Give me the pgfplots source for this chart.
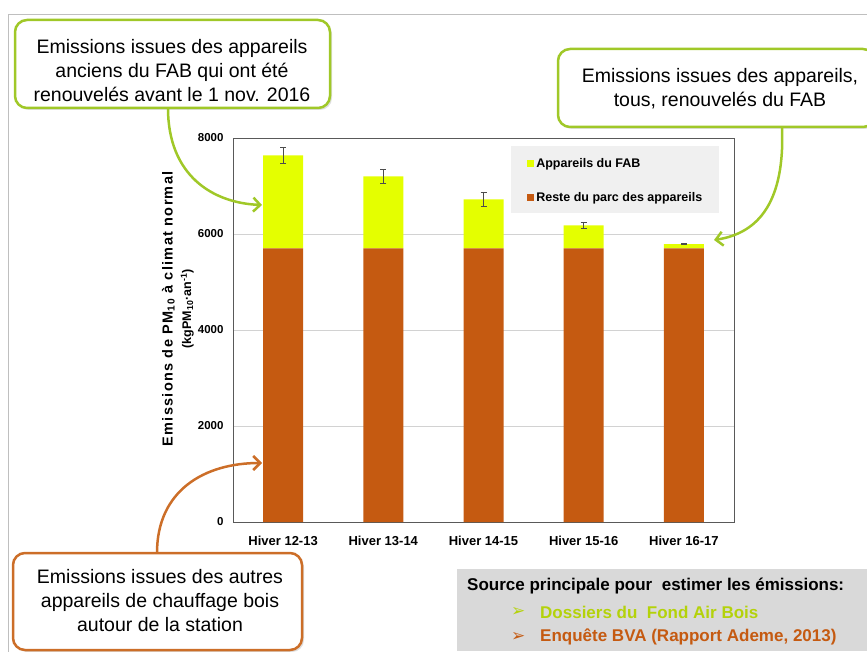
\documentclass[border=0pt]{standalone}
\usepackage{fontspec}
\setmainfont{Liberation Sans}
\newfontfamily\dejavu{DejaVu Sans}
\newfontfamily\spaced[LetterSpace=9]{Liberation Sans}
\usepackage{pgfplots}
\pgfplotsset{compat=1.18}
\usetikzlibrary{arrows.meta,shadows}

\definecolor{fabyellow}{RGB}{228,255,0}
\definecolor{barorange}{RGB}{197,90,17}
\definecolor{calgreen}{RGB}{160,200,40}
\definecolor{calorange}{RGB}{204,110,40}
\definecolor{srcgreen}{RGB}{180,210,10}
\definecolor{legbg}{RGB}{240,240,240}
\definecolor{srcbg}{RGB}{217,217,217}

\begin{document}
\begin{tikzpicture}
\useasboundingbox (0pt,0pt) rectangle (867pt,-652pt);

\begin{scope}[x=1pt,y=-1pt]
% slide frame
\draw[gray!50, line width=1pt] (8,652) -- (8,15) -- (867,15);
% legend background
\fill[legbg] (511,146) rectangle (719,213);
\end{scope}

\pgfplotsset{chartgeom/.style={
	at={(233pt,-522pt)}, anchor=south west,
	width=501pt, height=384pt, scale only axis,
	xmin=-0.5, xmax=4.5, ymin=0, ymax=8000}}

\begin{axis}[
	chartgeom,
	ybar stacked,
	bar width=40pt,
	xtick={0,1,2,3,4},
	xticklabels={Hiver 12-13,Hiver 13-14,Hiver 14-15,Hiver 15-16,Hiver 16-17},
	ytick={0,2000,4000,6000,8000},
	ymajorgrids=true,
	grid style={gray!35, line width=0.8pt},
	axis line style={black!65, line width=1pt},
	major tick length=0pt,
	/pgf/number format/1000 sep={},
	/pgf/number format/assume math mode=true,
	yticklabel style={font=\bfseries\fontsize{11.5}{13}\selectfont, xshift=-6pt},
	xticklabel style={font=\bfseries\fontsize{13}{15}\selectfont, yshift=-11pt},
	ylabel={{\spaced\fontsize{14.5}{17}\selectfont Emissions de PM\textsubscript{10} à climat normal}\\[5pt]{\fontsize{12.5}{15}\selectfont (kgPM\textsubscript{10}·an\textsuperscript{-1})}},
	ylabel style={font=\bfseries, align=center, at={(axis description cs:-0.11,0.555)}, anchor=center},
	reverse legend,
	legend cell align=left,
	legend style={at={(0.587,0.889)}, anchor=west, fill=none, draw=none,
		inner sep=0pt, row sep=19pt,
		font=\bfseries\fontsize{12.5}{15}\selectfont},
	legend image code/.code={\fill[#1, draw=none] (0pt,-3.5pt) rectangle (7pt,3.5pt);},
]
\addplot[fill=barorange, draw=none] coordinates {(0,5700) (1,5700) (2,5700) (3,5700) (4,5700)};
\addlegendentry{Reste du parc des appareils}
\addplot[fill=fabyellow, draw=none] coordinates {(0,1940) (1,1500) (2,1020) (3,480) (4,90)};
\addlegendentry{Appareils du FAB}
\end{axis}

% error bars on the totals
\begin{axis}[chartgeom, hide axis]
\addplot[draw=none, mark=none,
	error bars/.cd, y dir=both, y explicit,
	error bar style={draw=black!70, line width=0.8pt},
	error mark options={rotate=90, mark size=3pt, draw=black!70, line width=0.8pt}]
	coordinates {
	(0,7640) +- (0,170)
	(1,7200) +- (0,140)
	(2,6720) +- (0,140)
	(3,6180) +- (0,60)
	(4,5790) +- (0,8)
	};
\end{axis}

\begin{scope}[x=1pt,y=-1pt]
% callout boxes
\tikzset{callout/.style={line width=2.5pt, rounded corners=12pt, fill=white,
	drop shadow={opacity=0.25, shadow xshift=2pt, shadow yshift=-2pt}},
	ctext/.style={align=center, font=\fontsize{19.5}{24}\selectfont, inner sep=0pt}}

\draw[callout, draw=calgreen] (15,20) rectangle (330,108);
\node[ctext] at (172,71) {Emissions issues des appareils\\anciens du FAB qui ont été\\renouvelés avant le 1 nov. 2016};

\draw[callout, draw=calgreen] (558,49) rectangle (875,127);
\node[ctext] at (720,89) {Emissions issues des appareils,\\tous, renouvelés du FAB};

\draw[callout, draw=calorange] (13,553) rectangle (302,650);
\node[ctext] at (160,601) {Emissions issues des autres\\appareils de chauffage bois\\autour de la station};

% arrows
\draw[calgreen, line width=2.5pt, -{Straight Barb[length=7pt, width=14pt]}]
	(168,108) .. controls (168,175) and (212,203) .. (262,205);
\draw[calgreen, line width=2.5pt, -{Straight Barb[length=7pt, width=14pt]}]
	(782,127) .. controls (785,200) and (760,233) .. (714,240);
\draw[calorange, line width=2.5pt, -{Straight Barb[length=7pt, width=14pt]}]
	(157,553) .. controls (157,490) and (205,463) .. (262,463);

% source box
\fill[srcbg] (457,569) rectangle (867,651);
\node[anchor=west, inner sep=0pt, font=\bfseries\fontsize{17}{20}\selectfont] at (467,586)
	{Source principale pour\ \ estimer les émissions:};
\node[anchor=west, inner sep=0pt, text=srcgreen, font=\dejavu\fontsize{17}{20}\selectfont] at (511,612) {➢};
\node[anchor=west, inner sep=0pt, text=srcgreen, font=\bfseries\fontsize{17}{20}\selectfont] at (540,612)
	{Dossiers du\ \ Fond Air Bois};
\node[anchor=west, inner sep=0pt, text=barorange, font=\dejavu\fontsize{17}{20}\selectfont] at (511,637) {➢};
\node[anchor=west, inner sep=0pt, text=barorange, font=\bfseries\fontsize{17}{20}\selectfont] at (540,637)
	{Enquête BVA (Rapport Ademe, 2013)};
\end{scope}
\end{tikzpicture}
\end{document}
